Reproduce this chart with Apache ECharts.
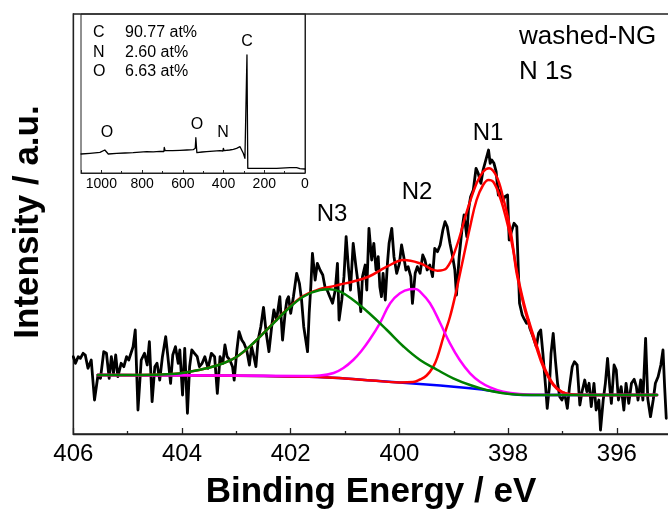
<!DOCTYPE html>
<html>
<head>
<meta charset="utf-8">
<script src="https://cdn.jsdelivr.net/npm/echarts@6/dist/echarts.min.js"></script>
<style>
  html, body { margin: 0; padding: 0; background: #fff; }
  #chart { width: 668px; height: 515px; }
</style>
</head>
<body>
<div id="chart"></div>
<script>
// N 1s high-resolution spectrum of washed-NG: [binding energy (eV), intensity (a.u.)]
const n1sMeasured = [
  [406.00,77.3],[405.96,70.7],[405.91,77.3],[405.87,75.7],[405.82,80.7],[405.78,79.0],[405.73,65.7],[405.67,74.0],
  [405.61,34.0],[405.55,57.3],[405.50,55.7],[405.44,82.3],[405.39,80.7],[405.34,55.7],[405.30,77.3],[405.26,60.7],
  [405.22,79.0],[405.18,57.3],[405.12,70.7],[405.07,67.3],[405.02,77.3],[404.98,74.0],[404.93,82.3],[404.90,87.3],
  [404.86,104.0],[404.81,24.0],[404.75,74.0],[404.69,80.7],[404.64,69.0],[404.60,92.3],[404.55,32.3],[404.50,67.3],
  [404.46,70.7],[404.41,54.0],[404.36,77.3],[404.30,97.3],[404.26,77.3],[404.21,50.7],[404.17,79.0],[404.12,87.3],
  [404.07,70.7],[404.04,84.0],[403.99,39.0],[403.95,85.7],[403.90,20.7],[403.86,67.3],[403.82,84.0],[403.77,80.7],
  [403.72,77.3],[403.68,67.3],[403.63,70.7],[403.58,77.3],[403.52,65.7],[403.46,80.7],[403.40,77.3],[403.35,40.7],
  [403.30,77.3],[403.25,70.7],[403.21,89.0],[403.17,77.3],[403.12,74.0],[403.07,67.3],[403.04,54.0],[402.99,84.0],
  [402.95,102.3],[402.90,94.0],[402.86,90.7],[402.81,84.0],[402.76,69.0],[402.72,87.3],[402.69,80.7],[402.64,67.3],
  [402.60,94.0],[402.55,107.3],[402.50,126.7],[402.45,100.7],[402.40,82.3],[402.35,107.3],[402.31,124.0],[402.26,114.0],
  [402.20,137.3],[402.15,94.0],[402.10,122.3],[402.07,134.0],[402.04,137.3],[402.00,120.7],[401.95,137.3],[401.89,160.7],
  [401.84,150.7],[401.80,134.0],[401.76,107.3],[401.69,82.3],[401.66,120.7],[401.63,147.3],[401.60,180.7],[401.55,154.0],
  [401.51,170.7],[401.46,164.0],[401.41,159.0],[401.37,147.3],[401.33,144.0],[401.28,137.3],[401.23,130.7],[401.18,144.0],
  [401.14,170.7],[401.11,114.0],[401.06,134.0],[401.02,157.3],[400.98,197.3],[400.94,167.3],[400.90,144.0],[400.85,190.7],
  [400.80,167.3],[400.76,150.7],[400.71,122.3],[400.68,157.3],[400.63,169.0],[400.60,144.0],[400.56,205.7],[400.51,174.0],
  [400.47,190.7],[400.43,164.0],[400.39,177.3],[400.36,147.3],[400.33,137.3],[400.30,160.7],[400.26,134.0],[400.22,170.7],
  [400.19,190.7],[400.14,205.7],[400.10,177.3],[400.05,160.7],[400.00,170.7],[399.96,189.0],[399.92,177.3],[399.88,164.0],
  [399.84,167.3],[399.79,157.3],[399.76,130.7],[399.71,160.7],[399.67,167.3],[399.62,160.7],[399.57,179.0],[399.53,174.0],
  [399.49,164.0],[399.44,169.0],[399.39,157.3],[399.35,185.7],[399.30,182.3],[399.25,189.0],[399.20,204.0],[399.16,212.3],
  [399.12,207.3],[399.07,190.7],[399.02,177.3],[398.98,164.0],[398.95,139.0],[398.90,177.3],[398.85,204.0],[398.81,219.0],
  [398.76,197.3],[398.73,224.0],[398.69,237.3],[398.64,244.0],[398.59,265.7],[398.55,260.7],[398.50,250.7],[398.46,264.0],
  [398.41,274.0],[398.36,284.0],[398.33,270.7],[398.30,274.0],[398.26,270.7],[398.22,262.3],[398.18,239.0],[398.14,244.0],
  [398.10,232.3],[398.06,237.3],[398.01,239.0],[397.98,194.0],[397.93,204.0],[397.89,210.7],[397.84,207.3],[397.79,130.7],
  [397.74,119.0],[397.71,115.7],[397.66,110.7],[397.63,114.0],[397.60,105.7],[397.54,97.3],[397.48,87.3],[397.44,100.7],
  [397.40,104.0],[397.36,80.7],[397.31,47.3],[397.28,25.7],[397.24,47.3],[397.21,80.7],[397.17,100.7],[397.13,74.0],
  [397.09,50.7],[397.05,37.3],[397.01,34.0],[396.96,40.7],[396.91,25.7],[396.87,47.3],[396.82,67.3],[396.78,72.3],
  [396.73,69.0],[396.68,29.0],[396.64,42.3],[396.59,54.0],[396.55,42.3],[396.51,50.7],[396.47,27.3],[396.42,50.7],
  [396.38,24.0],[396.33,34.0],[396.30,4.0],[396.25,34.0],[396.21,50.7],[396.17,75.7],[396.13,47.3],[396.10,30.7],
  [396.05,69.0],[396.01,64.0],[395.97,34.0],[395.92,47.3],[395.87,24.0],[395.83,50.7],[395.78,30.7],[395.73,50.7],
  [395.68,54.7],[395.64,47.3],[395.61,34.0],[395.56,54.0],[395.52,34.0],[395.47,95.7],[395.43,35.3],[395.38,17.3],
  [395.33,34.0],[395.29,50.7],[395.24,57.3],[395.19,69.0],[395.15,84.0],[395.12,47.3],[395.09,15.7]
];

// Shirley background
const shirleyBackground = [
  [405.55,59],[404.5,58.8],[403.5,58.5],[402.5,58],[401.5,57],[401.0,55.5],[400.5,53.5],[400.0,51.5],
  [399.5,49.5],[399.0,47.3],[398.7,45.7],[398.33,43.3],[398.0,40.5],[397.73,39],[397.0,39],[395.26,39]
];

// Fitted components (each drawn on top of the background)
const peakN1 = [
  [405.55,59],[404.5,58.8],[403.5,58.5],[402.5,58],[401.5,57],[401.0,55.5],[400.5,53.5],[400.0,51.6],
  [399.75,52],[399.62,54.5],[399.5,58.5],[399.38,67],[399.30,77],[399.19,97],[399.07,117],[398.95,144],
  [398.82,177],[398.70,207],[398.58,234],[398.46,249],[398.36,254],[398.27,252],[398.15,237],[398.03,214],
  [397.91,185],[397.84,160],[397.71,128],[397.60,107],[397.47,85],[397.36,68],[397.17,49],[397.0,41.5],
  [396.8,39.3],[396.5,39],[395.26,39]
];
const peakN2 = [
  [405.55,59],[403.3,58.5],[401.77,58],[401.46,58.5],[401.21,61],[401.03,66],[400.85,74],[400.70,83],
  [400.54,95],[400.36,110.7],[400.17,130.7],[399.99,140.7],[399.81,144.7],[399.70,145],[399.62,142.3],[399.44,131],
  [399.25,111],[399.07,90.7],[398.89,74],[398.70,60.7],[398.52,52.3],[398.33,46.7],[398.09,42.3],[397.79,40],
  [397.4,39.2],[397.0,39],[395.26,39]
];
const peakN3 = [
  [405.55,59],[404.78,59],[404.17,60],[403.86,62.3],[403.55,65.7],[403.25,70.5],[402.99,77.3],[402.69,90.7],
  [402.38,107.3],[402.07,124],[401.77,137.3],[401.46,144],[401.28,144.7],[401.09,142.3],[400.85,134],[400.56,121],
  [400.23,104],[399.92,87.3],[399.62,74],[399.30,64],[399.01,55.7],[398.70,49],[398.40,44],[398.09,40.7],
  [397.79,39.2],[397.3,39],[395.26,39]
];
const envelope = [
  [405.55,59],[404.78,59],[404.17,60],[403.86,62.3],[403.55,65.7],[403.25,70.7],[402.99,77.3],[402.69,90.7],
  [402.38,107.5],[402.07,124.5],[401.77,138],[401.46,145],[401.28,147],[401.09,149.5],[400.85,152.5],[400.56,157.5],
  [400.23,167.3],[399.92,174],[399.62,170.7],[399.30,163.3],[399.13,166],[398.95,187.3],[398.76,222.3],[398.58,250.7],
  [398.46,262.3],[398.35,265.7],[398.21,257.3],[398.09,236],[397.97,208],[397.84,163],[397.71,131],[397.60,110],
  [397.47,88],[397.36,70],[397.17,50],[397.0,42],[396.8,39.5],[396.5,39],[395.26,39]
];

// Survey spectrum for the inset: [binding energy (eV), intensity (a.u.)]
const survey = [
  [1100,19],[1056,19.7],[1007,20.7],[983,23],[975,24],[966,19],[925,19.7],[884,20],[844,20.3],[810,20.8],
  [778,21.3],[745,21.2],[713,21.7],[693,21.5],[691,25.7],[687,22.3],[650,22.4],[614,22.7],[580,23],[549,23.3],
  [539,24.7],[536,35.3],[531,20.3],[505,21],[483,21.3],[450,21.8],[418,22.3],[403,22],[401,24.7],[397,22.3],
  [370,23],[352,23.7],[336,24.7],[319,26.3],[311,27],[303,19.7],[295,14.7],[290,16],[285,118],[281,4.7],
  [221,4.7],[139,4.7],[74,5.3],[41,5.3],[25,4.3],[0,4]
];

// Surface composition from the survey
const elements = ['C', 'N', 'O'];
const atomicPercent = [90.77, 2.60, 6.63];

// Peak assignments
const peakNames = ['N1', 'N2', 'N3'];
const surveyPeakNames = ['O', 'O', 'N', 'C'];

const FONT = '"Liberation Sans", Arial, Helvetica, sans-serif';
const AXIS_COLOR = '#222';

const chart = echarts.init(document.getElementById('chart'), null, { renderer: 'canvas' });

function line(data, color, width, z, smooth, xi, yi) {
  return {
    type: 'line', data: data, xAxisIndex: xi || 0, yAxisIndex: yi || 0,
    showSymbol: false, symbol: 'none', smooth: smooth ? 0.4 : false,
    lineStyle: { color: color, width: width, join: 'round', cap: 'round' },
    z: z, silent: true, animation: false
  };
}

function label(text, x, y, font, align) {
  return {
    type: 'text', x: x, y: y, silent: true, z: 100,
    style: { text: text, font: font, fill: '#000', textAlign: align || 'left', textVerticalAlign: 'middle' }
  };
}

const graphics = [
  // axis titles
  label('Binding Energy / eV', 371, 492, 'bold 35px ' + FONT, 'center'),
  Object.assign(label('Intensity / a.u.', 28, 222, 'bold 35px ' + FONT, 'center'), { rotation: Math.PI / 2 }),
  // sample and region
  label('washed-NG', 519, 37, '26px ' + FONT),
  label('N 1s', 519, 72, '26px ' + FONT),
  // peak labels
  label(peakNames[0], 488, 133, '24px ' + FONT, 'center'),
  label(peakNames[1], 417, 192, '24px ' + FONT, 'center'),
  label(peakNames[2], 332, 214, '24px ' + FONT, 'center')
];

// composition table in the inset
const rowY = [33, 53, 72];
elements.forEach((el, i) => {
  graphics.push(label(el, 93, rowY[i], '16px ' + FONT));
  graphics.push(label(atomicPercent[i].toFixed(2) + ' at%', 125, rowY[i], '16px ' + FONT));
});
// survey peak labels
const surveyLabelPos = [[107, 133], [197, 125], [223, 133], [247, 42]];
surveyPeakNames.forEach((t, i) => {
  graphics.push(label(t, surveyLabelPos[i][0], surveyLabelPos[i][1], '16px ' + FONT, 'center'));
});

const plainNumber = v => String(v);

const option = {
  backgroundColor: '#fff',
  animation: false,
  grid: [
    // main panel runs past the right edge of the canvas (394 eV end is off-screen)
    { left: 73.3, top: 14, width: 652.2, height: 420, show: true, borderColor: AXIS_COLOR, borderWidth: 1.3,
      backgroundColor: 'transparent', containLabel: false, outerBoundsMode: 'none' },
    { left: 81, top: 14, width: 224, height: 159, show: true, borderColor: AXIS_COLOR, borderWidth: 1,
      backgroundColor: 'transparent', containLabel: false, outerBoundsMode: 'none' }
  ],
  xAxis: [
    {
      type: 'value', gridIndex: 0, min: 394, max: 406, interval: 2, inverse: true,
      axisLine: { show: true, lineStyle: { color: AXIS_COLOR, width: 1.3 } },
      axisTick: { show: true, inside: true, length: 6, lineStyle: { color: AXIS_COLOR, width: 1.3 } },
      minorTick: { show: true, splitNumber: 2, length: 3, lineStyle: { color: AXIS_COLOR, width: 1.3 } },
      axisLabel: { show: true, color: '#000', fontFamily: FONT, fontSize: 24, margin: 8, formatter: plainNumber,
                   showMinLabel: true, showMaxLabel: true },
      splitLine: { show: false }
    },
    {
      type: 'value', gridIndex: 1, min: 0, max: 1100, interval: 200, inverse: true,
      axisLine: { show: true, lineStyle: { color: AXIS_COLOR, width: 1 } },
      axisTick: { show: true, inside: true, length: 3, lineStyle: { color: AXIS_COLOR, width: 1 } },
      minorTick: { show: true, splitNumber: 2, length: 2, lineStyle: { color: AXIS_COLOR, width: 1 } },
      axisLabel: { show: true, color: '#000', fontFamily: FONT, fontSize: 14, margin: 4, formatter: plainNumber,
                   showMinLabel: true, showMaxLabel: false },
      splitLine: { show: false }
    }
  ],
  yAxis: [
    {
      type: 'value', gridIndex: 0, min: 0, max: 420,
      axisLine: { show: true, lineStyle: { color: AXIS_COLOR, width: 1.3 } },
      axisTick: { show: false }, axisLabel: { show: false }, splitLine: { show: false }
    },
    {
      type: 'value', gridIndex: 1, min: 0, max: 159,
      axisLine: { show: true, lineStyle: { color: AXIS_COLOR, width: 1 } },
      axisTick: { show: false }, axisLabel: { show: false }, splitLine: { show: false }
    }
  ],
  series: [
    line(n1sMeasured, '#000000', 2.8, 2, false),
    line(shirleyBackground, '#0000ff', 2.5, 3, true),
    line(peakN1, '#ff0000', 2.5, 4, true),
    line(envelope, '#ff0000', 2.5, 5, true),
    line(peakN2, '#ff00ff', 2.5, 6, true),
    line(peakN3, '#008000', 2.5, 7, true),
    line(survey, '#000000', 1.3, 3, false, 1, 1)
  ],
  graphic: graphics
};

chart.setOption(option);
</script>
</body>
</html>
